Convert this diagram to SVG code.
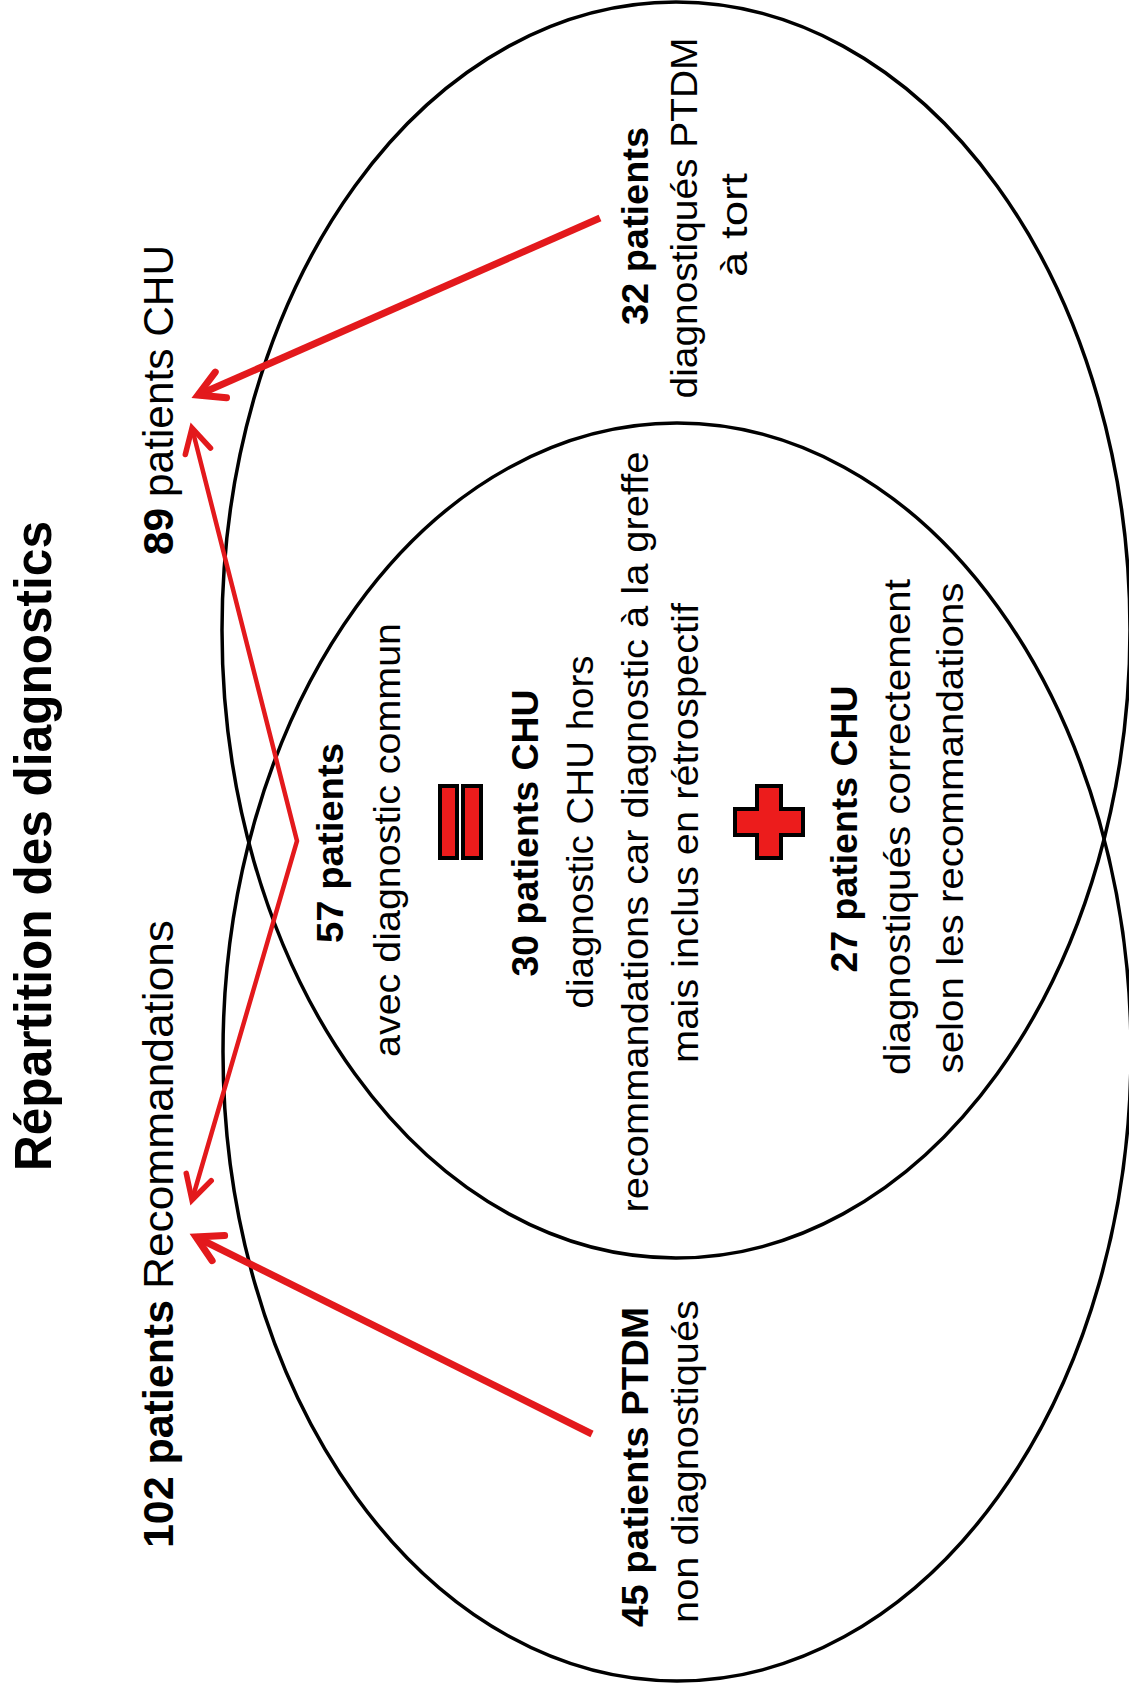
<svg xmlns="http://www.w3.org/2000/svg" width="1129" height="1684" viewBox="0 0 1129 1684">
<style>
.t{font-family:"Liberation Sans",Arial,sans-serif;fill:#000}
.b{font-weight:bold}
.body{font-size:37px}
.lab{font-size:43px}
.ttl{font-size:52px;font-weight:bold}
.ell{fill:none;stroke:#000;stroke-width:3.5}
.arr{fill:none;stroke:#e3191c;stroke-linejoin:miter}
.sym{fill:#ec1c1c;stroke:#000;stroke-width:4}
</style>
<defs>
<marker id="headThick" markerUnits="userSpaceOnUse" markerWidth="60" markerHeight="60" refX="0" refY="0" orient="auto-start-reverse" overflow="visible">
<path d="M-25,-14 L0,0 L-25,14" fill="none" stroke="#e3191c" stroke-width="7" stroke-linecap="round" stroke-linejoin="miter"/>
</marker>
<marker id="headThin" markerUnits="userSpaceOnUse" markerWidth="60" markerHeight="60" refX="0" refY="0" orient="auto-start-reverse" overflow="visible">
<path d="M-24,-13 L0,0 L-24,13" fill="none" stroke="#e3191c" stroke-width="5.5" stroke-linecap="round" stroke-linejoin="miter"/>
</marker>
</defs>
<rect width="1129" height="1684" fill="#fff"/>

<g id="title">
<text class="t ttl" transform="translate(51,846) rotate(-90)" text-anchor="middle" textLength="650" lengthAdjust="spacingAndGlyphs">Répartition des diagnostics</text>
</g>

<g id="ellipse-chu">
<ellipse class="ell" cx="676" cy="630" rx="454" ry="628"/>
</g>
<g id="ellipse-recommandations">
<ellipse class="ell" cx="677" cy="1052" rx="454" ry="629"/>
</g>

<g id="label-89">
<text class="t lab b" transform="translate(173,555) rotate(-90)" textLength="47" lengthAdjust="spacingAndGlyphs">89</text>
<text class="t lab" transform="translate(173,497) rotate(-90)" textLength="252" lengthAdjust="spacingAndGlyphs">patients CHU</text>
</g>

<g id="label-102">
<text class="t lab b" transform="translate(173,1548) rotate(-90)" textLength="248" lengthAdjust="spacingAndGlyphs">102 patients</text>
<text class="t lab" transform="translate(173,1289) rotate(-90)" textLength="369" lengthAdjust="spacingAndGlyphs">Recommandations</text>
</g>

<g id="node-32">
<text class="t body b" transform="translate(648,226) rotate(-90)" text-anchor="middle" textLength="198" lengthAdjust="spacingAndGlyphs">32 patients</text>
<text class="t body" transform="translate(697,218) rotate(-90)" text-anchor="middle" textLength="361" lengthAdjust="spacingAndGlyphs">diagnostiqués PTDM</text>
<text class="t body" transform="translate(747,225) rotate(-90)" text-anchor="middle" textLength="104" lengthAdjust="spacingAndGlyphs">à tort</text>
</g>

<g id="node-45">
<text class="t body b" transform="translate(648,1627) rotate(-90)" textLength="320" lengthAdjust="spacingAndGlyphs">45 patients PTDM</text>
<text class="t body" transform="translate(698,1623) rotate(-90)" textLength="323" lengthAdjust="spacingAndGlyphs">non diagnostiqués</text>
</g>

<g id="node-57">
<text class="t body b" transform="translate(343,843) rotate(-90)" text-anchor="middle" textLength="200" lengthAdjust="spacingAndGlyphs">57 patients</text>
<text class="t body" transform="translate(400,840) rotate(-90)" text-anchor="middle" textLength="434" lengthAdjust="spacingAndGlyphs">avec diagnostic commun</text>
</g>

<g id="symbol-equal">
<rect class="sym" x="440" y="786" width="17" height="72"/>
<rect class="sym" x="463" y="786" width="18" height="72"/>
</g>

<g id="node-30">
<text class="t body b" transform="translate(538,833) rotate(-90)" text-anchor="middle" textLength="287" lengthAdjust="spacingAndGlyphs">30 patients CHU</text>
<text class="t body" transform="translate(593,832) rotate(-90)" text-anchor="middle" textLength="353" lengthAdjust="spacingAndGlyphs">diagnostic CHU hors</text>
<text class="t body" transform="translate(648,832) rotate(-90)" text-anchor="middle" textLength="761" lengthAdjust="spacingAndGlyphs">recommandations car diagnostic à la greffe</text>
<text class="t body" transform="translate(698,833) rotate(-90)" text-anchor="middle" textLength="460" lengthAdjust="spacingAndGlyphs">mais inclus en rétrospectif</text>
</g>

<g id="symbol-plus">
<polygon class="sym" points="757,786 781,786 781,809 803,809 803,835 781,835 781,858 757,858 757,835 735,835 735,809 757,809"/>
</g>

<g id="node-27">
<text class="t body b" transform="translate(857,829) rotate(-90)" text-anchor="middle" textLength="287" lengthAdjust="spacingAndGlyphs">27 patients CHU</text>
<text class="t body" transform="translate(910,827) rotate(-90)" text-anchor="middle" textLength="496" lengthAdjust="spacingAndGlyphs">diagnostiqués correctement</text>
<text class="t body" transform="translate(963,828) rotate(-90)" text-anchor="middle" textLength="491" lengthAdjust="spacingAndGlyphs">selon les recommandations</text>
</g>

<g id="connectors">
<line class="arr" x1="600" y1="218" x2="198" y2="395" stroke-width="7" marker-end="url(#headThick)"/>
<line class="arr" x1="592" y1="1434" x2="196" y2="1237" stroke-width="7" marker-end="url(#headThick)"/>
<polyline class="arr" points="192,428 297,841 192,1200" stroke-width="4.5" marker-start="url(#headThin)" marker-end="url(#headThin)"/>
</g>
</svg>
